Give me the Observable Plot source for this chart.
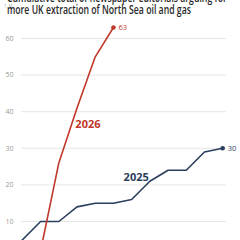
<!DOCTYPE html>
<html>
<head>
<meta charset="utf-8">
<script src="https://cdn.jsdelivr.net/npm/d3@7"></script>
<script src="https://cdn.jsdelivr.net/npm/@observablehq/plot@0.6"></script>
<style>
  html, body { margin: 0; padding: 0; width: 240px; height: 240px; overflow: hidden; background: #fff; }
  #wrap { position: relative; width: 240px; height: 240px; }
  #title { position: absolute; left: 7px; top: -8.2px; font-family: "Open Sans", sans-serif; font-size: 12px; font-weight: 600; line-height: 12px; color: #2a2a2a; white-space: nowrap; z-index: 2; transform: scaleX(0.725); transform-origin: 0 0; }
  #chart { position: absolute; left: 0; top: 0; }
</style>
</head>
<body>
<div id="wrap">
  <div id="title">Cumulative total of newspaper editorials arguing for<br>more UK extraction of North Sea oil and gas</div>
  <div id="chart"></div>
</div>
<script>
// period index (x), cumulative counts
const periods2025 = [0, 1, 2, 3, 4, 5, 6, 7, 8, 9, 10, 11, 12];
const values2025  = [0, 5, 10, 10, 14, 15, 15, 16, 21, 24, 24, 29, 30];
const periods2026 = [1, 2, 3, 4, 5, 6];
const values2026  = [0, 2, 26, 41, 55, 63];
const yTicks = [10, 20, 30, 40, 50, 60];

const red = "#c0392b";
const navy = "#2c3e5e";

const d25 = periods2025.map((p, i) => ({p, v: values2025[i]}));
const d26 = periods2026.map((p, i) => ({p, v: values2026[i]}));
const last25 = d25[d25.length - 1];
const last26 = d26[d26.length - 1];

const chart = Plot.plot({
  width: 240,
  height: 280,
  marginLeft: 21,
  marginRight: 14.2,
  marginTop: 19.7,
  marginBottom: 22.4,
  style: {fontFamily: "Open Sans, sans-serif", overflow: "visible"},
  x: {domain: [0.95, 12.2], axis: null},
  y: {domain: [0, 65], axis: null},
  marks: [
    Plot.gridY(yTicks, {stroke: "#e6e6e6", strokeOpacity: 1, strokeWidth: 1}),
    Plot.axisY(yTicks, {tickSize: 0, tickPadding: 8, fontSize: 7, fill: "#9a9a9a", anchor: "left"}),
    Plot.line(d25, {x: "p", y: "v", stroke: navy, strokeWidth: 1.6}),
    Plot.line(d26, {x: "p", y: "v", stroke: red, strokeWidth: 1.6}),
    Plot.dot([last25], {x: "p", y: "v", r: 2.3, fill: navy}),
    Plot.dot([last26], {x: "p", y: "v", r: 2.3, fill: red}),
    Plot.text([last25], {x: "p", y: "v", text: d => String(d.v), dx: 5, textAnchor: "start", fontSize: 7.5, fill: navy}),
    Plot.text([last26], {x: "p", y: "v", text: d => String(d.v), dx: 5, textAnchor: "start", fontSize: 7.5, fill: red}),
    Plot.text(["2026"], {x: 4.6, y: 36.5, text: d => d, fontSize: 11, fontWeight: "bold", fill: red}),
    Plot.text(["2025"], {x: 7.25, y: 22, text: d => d, fontSize: 11, fontWeight: "bold", fill: navy})
  ]
});
document.getElementById("chart").appendChild(chart);
</script>
</body>
</html>
